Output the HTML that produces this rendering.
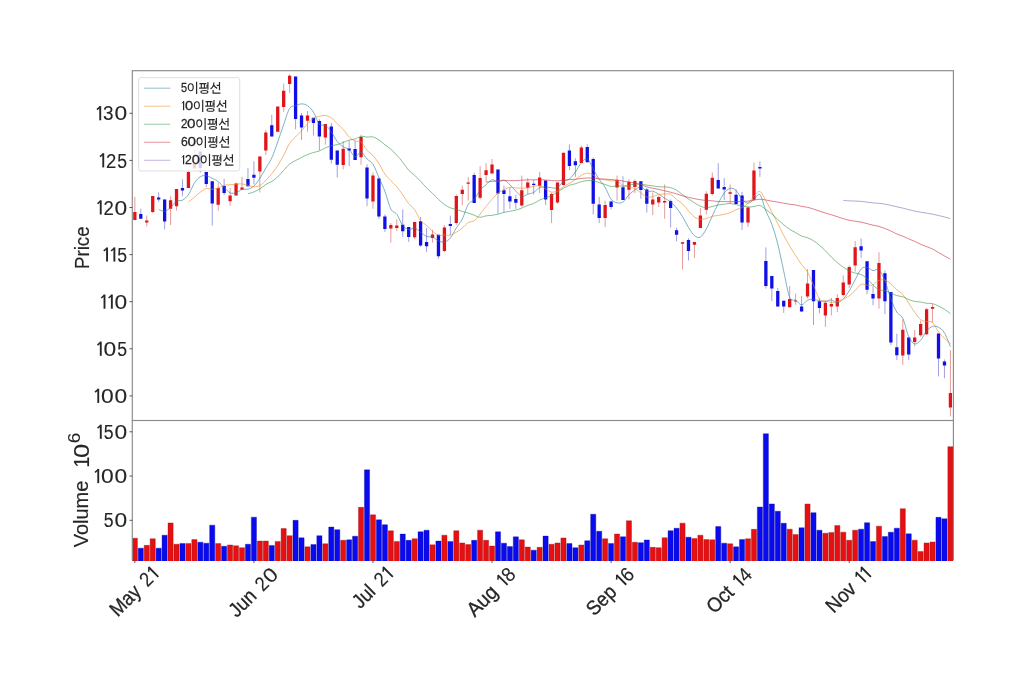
<!DOCTYPE html>
<html><head><meta charset="utf-8"><title>chart</title><style>html,body{margin:0;padding:0;background:#fff}body{width:1024px;height:692px;overflow:hidden;font-family:"Liberation Sans",sans-serif}</style></head><body>
<svg width="1024" height="692" viewBox="0 0 1024 692" style="display:block;font-family:'Liberation Sans',sans-serif;will-change:transform">
<rect width="1024" height="692" fill="#ffffff"/>
<defs><clipPath id="cp"><rect x="132.3" y="70.7" width="821.1" height="349.8"/></clipPath>
<clipPath id="cv"><rect x="131.8" y="420.5" width="821.7" height="140.4"/></clipPath>
</defs>
<g clip-path="url(#cp)">
<path d="M134.85 196.9V220.4M146.76 215.6V226.25M152.71 196V213.1M170.57 196.25V225M176.52 189V210.6M188.43 170.6V187.9M194.38 150V168.5M218.19 182.5V210.6M230.1 188.1V205.6M236.05 182.5V195.6M242 176.9V190M259.86 156.5V192.5M265.82 130V155M277.72 106.5V131.75M283.68 83.6V111.75M289.63 74.25V93M307.49 111.1V131.75M325.35 123.9V144.6M343.21 141.25V169.4M361.06 134.75V164.75M372.97 172.5V208.75M390.83 223.1V242.5M396.78 219.4V231.25M414.64 221.9V239M432.5 229.75V242.5M444.41 225V252.2M456.31 194.4V225M462.26 185.6V205.3M468.22 177.25V200.6M480.12 166.25V199.4M486.08 163.1V181.9M492.03 159V173.5M521.79 175.6V206.9M527.75 178.1V194.4M539.65 171.9V193.1M551.56 192.5V223.1M557.51 181.9V203.75M563.47 152.75V185.6M581.33 145.6V163.1M605.14 200.6V227M617.04 175.6V200.6M628.95 179.4V199.4M634.9 179.4V193.1M652.76 192.5V215M658.71 195.9V206.9M664.67 184.4V218.75M682.53 242.25V269.4M694.43 241.9V258.1M700.39 208.1V228.1M706.34 191.25V214.4M712.29 172.5V195.6M730.15 184.4V203.1M748.01 206.25V226.9M753.96 162.5V199.75M789.68 286V307.25M795.63 293.5V304.75M807.54 269.1V298.5M825.4 301V326.9M831.35 297.9V315.4M837.3 294.1V312.25M843.26 275.4V296.6M849.21 265.4V287.9M855.16 241V271.6M878.98 252.25V308.6M902.79 319.4V365M914.69 330V346.25M920.65 320.6V336.9M926.6 307.8V335.1M932.55 304.1V322.9M950.41 350.1V416.4" stroke="#c83c3c" stroke-width="0.85" stroke-opacity="0.6" fill="none"/>
<path d="M140.8 208.75V218.75M158.66 192.25V201.9M164.62 199.4V229.4M182.47 179.4V196.25M200.33 151.5V172.6M206.29 171.9V186.9M212.24 181.25V225.6M224.14 178.75V195M247.96 168.1V186.9M253.91 161.25V184.4M271.77 114.9V136.5M295.58 76.5V129.25M301.53 113V139.9M313.44 117.75V135.5M319.39 119.25V150.3M331.3 123V163.5M337.25 150.6V177.5M349.16 140.6V166.25M355.11 140.6V160M367.02 164.4V206.1M378.92 177.5V218.75M384.88 214.4V231.9M402.74 209.4V236.9M408.69 226.9V241.9M420.59 216.9V246.9M426.55 228.1V251.9M438.45 234.75V258.75M450.36 215.6V235M474.17 172.5V203.1M497.98 169.4V213.75M503.94 185.6V212.5M509.89 187.5V208.75M515.84 195V208.75M533.7 180V194.4M545.61 180.6V205M569.42 144.4V170M575.37 158.1V176.9M587.28 144.4V162.25M593.23 157.5V214.4M599.18 196.9V223.1M611.09 200.6V209.4M623 176.25V200M640.86 181.25V198.75M646.81 188.1V212.5M670.62 199.4V227.5M676.57 227.5V241.25M688.48 238.1V260.6M718.24 163.1V188.5M724.2 178.1V200M736.1 189.4V204M742.06 191.9V230M759.92 161.25V176.9M765.87 247.4V288.6M771.82 276.1V301.1M777.77 288V306.6M783.73 300.7V312.9M801.59 296V311.6M813.49 270V325M819.45 297.9V313.5M861.12 238.5V257.9M867.07 261.25V294.1M873.02 286V305.2M884.93 270.4V314.25M890.88 291.9V345M896.83 333.75V360M908.74 337.5V360M938.51 333.6V376.4M944.46 359.5V378.3" stroke="#4646c8" stroke-width="0.85" stroke-opacity="0.6" fill="none"/>
<path d="M133.2 212.1h3.3V220h-3.3zM145.11 220.6h3.3V222.5h-3.3zM151.06 196h3.3V212.1h-3.3zM168.92 200.25h3.3V208.75h-3.3zM174.87 189h3.3V206.25h-3.3zM186.78 171.9h3.3V187.9h-3.3zM192.73 164h3.3V168.5h-3.3zM216.54 187.9h3.3V204.75h-3.3zM228.45 195.4h3.3V201.25h-3.3zM234.4 183.5h3.3V195.6h-3.3zM240.35 187.5h3.3V189.4h-3.3zM258.21 156.5h3.3V171.5h-3.3zM264.17 132.5h3.3V150.4h-3.3zM276.07 106.5h3.3V131.75h-3.3zM282.03 90.75h3.3V107h-3.3zM287.98 75.75h3.3V84h-3.3zM305.84 115.5h3.3V120.75h-3.3zM323.7 123.9h3.3V137.4h-3.3zM341.56 148.75h3.3V165h-3.3zM359.41 136.9h3.3V157.25h-3.3zM371.32 175.6h3.3V201.4h-3.3zM389.18 225h3.3V228.5h-3.3zM395.13 225.4h3.3V228.1h-3.3zM412.99 221.9h3.3V237.25h-3.3zM430.85 234.4h3.3V238.1h-3.3zM442.76 227.4h3.3V251.1h-3.3zM454.66 196h3.3V223.1h-3.3zM460.62 189.75h3.3V194h-3.3zM466.57 182.6h3.3V183.8h-3.3zM478.47 178.1h3.3V197.75h-3.3zM484.43 170.25h3.3V175h-3.3zM490.38 164.4h3.3V173.5h-3.3zM520.14 190.25h3.3V205.6h-3.3zM526.1 182.5h3.3V187.75h-3.3zM538 177.4h3.3V185.8h-3.3zM549.91 194h3.3V210h-3.3zM555.86 182.5h3.3V202.5h-3.3zM561.82 152.75h3.3V185h-3.3zM579.68 147.5h3.3V163.1h-3.3zM603.49 205h3.3V218.1h-3.3zM615.39 180h3.3V187.5h-3.3zM627.3 181.9h3.3V189.75h-3.3zM633.25 181h3.3V186.9h-3.3zM651.11 199.4h3.3V204.4h-3.3zM657.06 197h3.3V202.5h-3.3zM663.02 201h3.3V202.5h-3.3zM680.88 242.25h3.3V243.75h-3.3zM692.78 241.9h3.3V244.75h-3.3zM698.74 215.6h3.3V228.1h-3.3zM704.69 193.75h3.3V209.75h-3.3zM710.64 177.75h3.3V194h-3.3zM728.5 192.25h3.3V193.75h-3.3zM746.36 207.5h3.3V222.5h-3.3zM752.31 170.6h3.3V199.75h-3.3zM788.03 299.1h3.3V307.25h-3.3zM793.98 300.4h3.3V301.6h-3.3zM805.89 283.5h3.3V296.6h-3.3zM823.75 302.7h3.3V315.5h-3.3zM829.7 304.1h3.3V306.6h-3.3zM835.65 297.9h3.3V306.6h-3.3zM841.61 282.5h3.3V295h-3.3zM847.56 267h3.3V284.5h-3.3zM853.51 247.25h3.3V265.4h-3.3zM877.33 262.9h3.3V298.5h-3.3zM901.14 329.75h3.3V355.6h-3.3zM913.04 337.5h3.3V341.9h-3.3zM919 324h3.3V335.25h-3.3zM924.95 309.3h3.3V334.25h-3.3zM930.9 306.9h3.3V308.8h-3.3zM948.76 393h3.3V407.4h-3.3z" fill="#e0151a"/>
<path d="M139.15 214.1h3.3V218.75h-3.3zM157.01 197.5h3.3V199.6h-3.3zM162.97 199.4h3.3V221.5h-3.3zM180.82 188.1h3.3V190.6h-3.3zM198.68 151.5h3.3V168h-3.3zM204.64 171.9h3.3V184.1h-3.3zM210.59 181.25h3.3V203.5h-3.3zM222.49 186h3.3V193.1h-3.3zM246.31 179h3.3V186.25h-3.3zM252.26 174.75h3.3V177.75h-3.3zM270.12 125.25h3.3V136.5h-3.3zM293.93 76.5h3.3V119h-3.3zM299.88 115.5h3.3V127.4h-3.3zM311.79 117.75h3.3V123h-3.3zM317.74 121.1h3.3V136.5h-3.3zM329.65 126.5h3.3V159.75h-3.3zM335.6 150.6h3.3V164.75h-3.3zM347.51 148.5h3.3V150.6h-3.3zM353.46 149h3.3V160h-3.3zM365.37 167.5h3.3V198.6h-3.3zM377.27 178.5h3.3V216.5h-3.3zM383.23 216.5h3.3V229.1h-3.3zM401.09 224.75h3.3V231.25h-3.3zM407.04 226.9h3.3V236.9h-3.3zM418.94 221.25h3.3V245.6h-3.3zM424.9 241.9h3.3V246.25h-3.3zM436.8 234.75h3.3V256.25h-3.3zM448.71 224h3.3V225.9h-3.3zM472.52 175h3.3V203.1h-3.3zM496.33 169.4h3.3V193.5h-3.3zM502.29 190.25h3.3V194h-3.3zM508.24 196.25h3.3V201.5h-3.3zM514.19 199h3.3V202.75h-3.3zM532.05 183.75h3.3V185h-3.3zM543.96 180.6h3.3V199.6h-3.3zM567.77 150.6h3.3V166h-3.3zM573.72 161.25h3.3V165.25h-3.3zM585.63 146.9h3.3V162.25h-3.3zM591.58 159h3.3V203.75h-3.3zM597.53 204.4h3.3V218.1h-3.3zM609.44 201.5h3.3V206.9h-3.3zM621.35 187.25h3.3V200h-3.3zM639.21 181.25h3.3V190h-3.3zM645.16 189.4h3.3V203.75h-3.3zM668.97 201h3.3V208.1h-3.3zM674.92 230.3h3.3V234.75h-3.3zM686.83 240h3.3V251h-3.3zM716.59 180h3.3V188.5h-3.3zM722.55 186.9h3.3V189.4h-3.3zM734.45 194.75h3.3V204h-3.3zM740.41 195.6h3.3V222.5h-3.3zM758.27 166.9h3.3V168.5h-3.3zM764.22 261h3.3V286h-3.3zM770.17 276.1h3.3V288.5h-3.3zM776.12 291h3.3V306.6h-3.3zM782.08 300.7h3.3V306.6h-3.3zM799.94 306.6h3.3V311.6h-3.3zM811.84 270h3.3V301.25h-3.3zM817.8 301.25h3.3V307.9h-3.3zM859.47 246.25h3.3V250.4h-3.3zM865.42 261.25h3.3V289.75h-3.3zM871.37 294.1h3.3V298.6h-3.3zM883.28 273.25h3.3V301.25h-3.3zM889.23 291.9h3.3V342.5h-3.3zM895.18 347.25h3.3V355.25h-3.3zM907.09 337.5h3.3V354.4h-3.3zM936.86 333.6h3.3V358.6h-3.3zM942.81 361.4h3.3V365.5h-3.3z" fill="#1010e6"/>
<path d="M158.66 209.41C159.65 209.72 162.63 211.59 164.62 211.29C166.6 210.99 168.58 209.26 170.57 207.59C172.55 205.92 174.54 202.5 176.52 201.27C178.51 200.04 180.49 201.29 182.47 200.19C184.46 199.09 186.44 197.49 188.43 194.65C190.41 191.81 192.4 186.14 194.38 183.15C196.36 180.16 198.35 177.94 200.33 176.7C202.32 175.46 204.3 175.45 206.29 175.72C208.27 175.99 210.25 177.34 212.24 178.3C214.22 179.26 216.21 180 218.19 181.5C220.18 183 222.16 185.44 224.14 187.32C226.13 189.2 228.11 191.91 230.1 192.8C232.08 193.69 234.07 193.23 236.05 192.68C238.04 192.13 240.02 190.07 242 189.48C243.99 188.89 245.97 189.72 247.96 189.15C249.94 188.58 251.93 187.89 253.91 186.08C255.89 184.27 257.88 181.3 259.86 178.3C261.85 175.3 263.83 171.5 265.82 168.1C267.8 164.7 269.78 162.26 271.77 157.9C273.75 153.54 275.74 147.51 277.72 141.95C279.71 136.39 281.69 130.14 283.68 124.55C285.66 118.96 287.64 111.54 289.63 108.4C291.61 105.26 293.6 106.45 295.58 105.7C297.57 104.95 299.55 103.88 301.53 103.88C303.52 103.88 305.5 104.3 307.49 105.68C309.47 107.05 311.46 109.03 313.44 112.13C315.42 115.23 317.41 122.09 319.39 124.28C321.38 126.47 323.36 124.02 325.35 125.26C327.33 126.5 329.31 129.01 331.3 131.73C333.28 134.45 335.27 139.08 337.25 141.58C339.24 144.08 341.22 145.4 343.21 146.73C345.19 148.06 347.17 147.88 349.16 149.55C351.14 151.22 353.13 156.33 355.11 156.77C357.1 157.21 359.08 151.83 361.06 152.2C363.05 152.57 365.03 156.95 367.02 158.97C369 160.99 370.99 161.25 372.97 164.34C374.95 167.43 376.94 173.02 378.92 177.52C380.91 182.02 382.89 186.1 384.88 191.34C386.86 196.58 388.84 205.13 390.83 208.96C392.81 212.79 394.8 211.57 396.78 214.32C398.77 217.07 400.75 222.91 402.74 225.45C404.72 227.98 406.7 229.09 408.69 229.53C410.67 229.97 412.66 227.64 414.64 228.09C416.63 228.54 418.61 230.83 420.59 232.21C422.58 233.59 424.56 235.58 426.55 236.38C428.53 237.18 430.52 236.26 432.5 237.01C434.48 237.76 436.47 240.05 438.45 240.88C440.44 241.71 442.42 242.45 444.41 241.98C446.39 241.51 448.37 240.37 450.36 238.04C452.34 235.71 454.33 231.15 456.31 227.99C458.3 224.83 460.28 223 462.26 219.06C464.25 215.12 466.23 207.59 468.22 204.33C470.2 201.06 472.19 201.87 474.17 199.47C476.16 197.07 478.14 192.36 480.12 189.91C482.11 187.46 484.09 186.46 486.08 184.76C488.06 183.06 490.05 180.17 492.03 179.69C494.01 179.21 496 181.81 497.98 181.87C499.97 181.93 501.95 179.57 503.94 180.05C505.92 180.53 507.9 182.87 509.89 184.73C511.87 186.59 513.86 189.28 515.84 191.23C517.83 193.17 519.81 195.91 521.79 196.4C523.78 196.9 525.76 194.87 527.75 194.2C529.73 193.53 531.72 193.5 533.7 192.4C535.69 191.3 537.67 188.49 539.65 187.58C541.64 186.67 543.62 186.93 545.61 186.95C547.59 186.97 549.58 187.57 551.56 187.7C553.54 187.82 555.53 188.77 557.51 187.7C559.5 186.62 561.48 182.7 563.47 181.25C565.45 179.8 567.43 180.5 569.42 178.97C571.4 177.44 573.39 174.79 575.37 172.1C577.36 169.41 579.34 165.03 581.33 162.8C583.31 160.58 585.29 157.72 587.28 158.75C589.26 159.78 591.25 165.51 593.23 168.95C595.22 172.39 597.2 176.31 599.18 179.37C601.17 182.43 603.15 184.01 605.14 187.32C607.12 190.62 609.11 196.63 611.09 199.2C613.07 201.77 615.06 202.28 617.04 202.75C619.03 203.22 621.01 203.33 623 202C624.98 200.67 626.96 196.77 628.95 194.76C630.93 192.75 632.92 191.32 634.9 189.96C636.89 188.6 638.87 186.35 640.86 186.58C642.84 186.81 644.82 190.56 646.81 191.33C648.79 192.1 650.78 190.73 652.76 191.21C654.75 191.69 656.73 193.06 658.71 194.23C660.7 195.4 662.68 196.96 664.67 198.23C666.65 199.5 668.64 200.21 670.62 201.85C672.6 203.49 674.59 205.59 676.57 208.05C678.56 210.51 680.54 213.39 682.53 216.62C684.51 219.85 686.49 224.26 688.48 227.42C690.46 230.58 692.45 233.99 694.43 235.6C696.42 237.21 698.4 238.22 700.39 237.1C702.37 235.98 704.35 232.42 706.34 228.9C708.32 225.38 710.31 220.23 712.29 216C714.28 211.77 716.26 207.33 718.24 203.5C720.23 199.67 722.21 195.53 724.2 193C726.18 190.47 728.17 188.77 730.15 188.33C732.13 187.89 734.12 188.55 736.1 190.38C738.09 192.21 740.07 197.2 742.06 199.33C744.04 201.45 746.02 203.12 748.01 203.13C749.99 203.14 751.98 200.79 753.96 199.37C755.95 197.95 757.93 192.68 759.92 194.62C761.9 196.56 763.88 206.09 765.87 211.02C767.85 215.95 769.84 218.72 771.82 224.22C773.81 229.72 775.79 236.2 777.77 244.04C779.76 251.88 781.74 262.35 783.73 271.24C785.71 280.13 787.7 292.53 789.68 297.36C791.66 302.19 793.65 298.99 795.63 300.24C797.62 301.49 799.6 304.86 801.59 304.86C803.57 304.86 805.55 301.19 807.54 300.24C809.52 299.29 811.51 299.05 813.49 299.17C815.48 299.28 817.46 300.56 819.45 300.93C821.43 301.3 823.41 301.56 825.4 301.39C827.38 301.22 829.37 299.66 831.35 299.89C833.34 300.12 835.32 302.91 837.3 302.77C839.29 302.62 841.27 301.01 843.26 299.02C845.24 297.03 847.23 294.05 849.21 290.84C851.19 287.63 853.18 283.39 855.16 279.75C857.15 276.11 859.13 271.07 861.12 269.01C863.1 266.95 865.08 267.12 867.07 267.38C869.05 267.64 871.04 270.2 873.02 270.6C875.01 271 876.99 268.12 878.98 269.78C880.96 271.44 882.94 275.71 884.93 280.58C886.91 285.45 888.9 293.75 890.88 299C892.87 304.25 894.85 308.88 896.83 312.1C898.82 315.32 900.8 314.24 902.79 318.33C904.77 322.42 906.76 332.37 908.74 336.63C910.72 340.89 912.71 343.29 914.69 343.88C916.68 344.47 918.66 342.33 920.65 340.18C922.63 338.03 924.61 333.28 926.6 330.99C928.58 328.7 930.57 327.04 932.55 326.42C934.54 325.8 936.52 326.19 938.51 327.26C940.49 328.33 942.47 329.63 944.46 332.86C946.44 336.09 949.42 344.36 950.41 346.66" stroke="#2f7f9c" stroke-width="0.7" stroke-opacity="0.88" fill="none" stroke-linejoin="round"/>
<path d="M188.43 202.03C189.42 201.23 192.4 198.87 194.38 197.22C196.36 195.57 198.35 193.6 200.33 192.15C202.32 190.69 204.3 188.98 206.29 188.5C208.27 188.01 210.25 189.31 212.24 189.25C214.22 189.18 216.21 188.74 218.19 188.07C220.18 187.41 222.16 185.79 224.14 185.23C226.13 184.68 228.11 184.92 230.1 184.75C232.08 184.58 234.07 184.34 236.05 184.2C238.04 184.06 240.02 183.7 242 183.89C243.99 184.08 245.97 184.86 247.96 185.32C249.94 185.79 251.93 186.66 253.91 186.7C255.89 186.74 257.88 186.6 259.86 185.55C261.85 184.5 263.83 182.37 265.82 180.39C267.8 178.41 269.78 176.16 271.77 173.69C273.75 171.22 275.74 168.61 277.72 165.55C279.71 162.49 281.69 159.01 283.68 155.31C285.66 151.62 287.64 146.42 289.63 143.35C291.61 140.28 293.6 138.98 295.58 136.9C297.57 134.82 299.55 133.07 301.53 130.89C303.52 128.71 305.5 125.91 307.49 123.82C309.47 121.72 311.46 119.59 313.44 118.34C315.42 117.09 317.41 116.82 319.39 116.34C321.38 115.86 323.36 115.24 325.35 115.48C327.33 115.72 329.31 116.45 331.3 117.8C333.28 119.16 335.27 121.69 337.25 123.63C339.24 125.57 341.22 127.22 343.21 129.43C345.19 131.64 347.17 134.98 349.16 136.92C351.14 138.85 353.13 140.17 355.11 141.02C357.1 141.86 359.08 140.42 361.06 141.97C363.05 143.51 365.03 148.01 367.02 150.28C369 152.54 370.99 153.32 372.97 155.53C374.95 157.75 376.94 160.45 378.92 163.53C380.91 166.62 382.89 171.21 384.88 174.06C386.86 176.9 388.84 178.48 390.83 180.58C392.81 182.68 394.8 184.26 396.78 186.65C398.77 189.03 400.75 192.08 402.74 194.9C404.72 197.71 406.7 201.06 408.69 203.53C410.67 206 412.66 206.87 414.64 209.72C416.63 212.56 418.61 217.98 420.59 220.58C422.58 223.19 424.56 223.58 426.55 225.35C428.53 227.12 430.52 229.59 432.5 231.23C434.48 232.87 436.47 234.57 438.45 235.21C440.44 235.84 442.42 235.05 444.41 235.03C446.39 235.02 448.37 235.6 450.36 235.12C452.34 234.65 454.33 233.37 456.31 232.19C458.3 231 460.28 229.63 462.26 228.03C464.25 226.44 466.23 223.82 468.22 222.61C470.2 221.39 472.19 222.16 474.17 220.72C476.16 219.29 478.14 216.37 480.12 213.97C482.11 211.58 484.09 208.81 486.08 206.38C488.06 203.94 490.05 201.59 492.03 199.38C494.01 197.16 496 194.7 497.98 193.1C499.97 191.5 501.95 190.72 503.94 189.76C505.92 188.8 507.9 187.61 509.89 187.32C511.87 187.03 513.86 187.87 515.84 188C517.83 188.12 519.81 188.04 521.79 188.05C523.78 188.05 525.76 188.34 527.75 188.03C529.73 187.73 531.72 186.54 533.7 186.22C535.69 185.91 537.67 185.68 539.65 186.16C541.64 186.63 543.62 188.11 545.61 189.09C547.59 190.07 549.58 191.74 551.56 192.05C553.54 192.36 555.53 191.82 557.51 190.95C559.5 190.08 561.48 188.1 563.47 186.82C565.45 185.55 567.43 184.49 569.42 183.28C571.4 182.06 573.39 180.86 575.37 179.53C577.36 178.19 579.34 176.3 581.33 175.25C583.31 174.2 585.29 173.25 587.28 173.22C589.26 173.2 591.25 174.11 593.23 175.1C595.22 176.09 597.2 178.4 599.18 179.17C601.17 179.94 603.15 179.4 605.14 179.71C607.12 180.01 609.11 180.83 611.09 181C613.07 181.17 615.06 180 617.04 180.75C619.03 181.5 621.01 184.42 623 185.47C624.98 186.53 626.96 186.54 628.95 187.06C630.93 187.59 632.92 187.67 634.9 188.64C636.89 189.61 638.87 191.49 640.86 192.89C642.84 194.29 644.82 196.42 646.81 197.04C648.79 197.66 650.78 197.03 652.76 196.6C654.75 196.18 656.73 194.91 658.71 194.5C660.7 194.08 662.68 194.14 664.67 194.09C666.65 194.05 668.64 193.28 670.62 194.22C672.6 195.15 674.59 198.07 676.57 199.69C678.56 201.31 680.54 202.06 682.53 203.92C684.51 205.77 686.49 208.66 688.48 210.82C690.46 212.99 692.45 215.47 694.43 216.92C696.42 218.36 698.4 219.22 700.39 219.47C702.37 219.73 704.35 219 706.34 218.47C708.32 217.95 710.31 216.81 712.29 216.31C714.28 215.81 716.26 215.79 718.24 215.46C720.23 215.12 722.21 214.76 724.2 214.3C726.18 213.84 728.17 213.49 730.15 212.72C732.13 211.94 734.12 210.48 736.1 209.64C738.09 208.8 740.07 208.72 742.06 207.67C744.04 206.61 746.02 205.23 748.01 203.31C749.99 201.4 751.98 198.16 753.96 196.19C755.95 194.21 757.93 190.72 759.92 191.47C761.9 192.23 763.88 197.32 765.87 200.7C767.85 204.08 769.84 207.96 771.82 211.78C773.81 215.59 775.79 219.66 777.77 223.58C779.76 227.51 781.74 231.57 783.73 235.31C785.71 239.04 787.7 242.6 789.68 245.99C791.66 249.38 793.65 252.54 795.63 255.63C797.62 258.72 799.6 261.79 801.59 264.54C803.57 267.29 805.55 268.7 807.54 272.14C809.52 275.58 811.51 280.7 813.49 285.21C815.48 289.71 817.46 296.54 819.45 299.14C821.43 301.75 823.41 300.28 825.4 300.81C827.38 301.35 829.37 302.26 831.35 302.38C833.34 302.49 835.32 302.05 837.3 301.5C839.29 300.96 841.27 300.03 843.26 299.09C845.24 298.16 847.23 297.31 849.21 295.88C851.19 294.46 853.18 292.48 855.16 290.57C857.15 288.66 859.13 285.37 861.12 284.45C863.1 283.53 865.08 285.01 867.07 285.07C869.05 285.13 871.04 285.6 873.02 284.81C875.01 284.02 876.99 281.08 878.98 280.31C880.96 279.54 882.94 279.55 884.93 280.17C886.91 280.78 888.9 282.41 890.88 284C892.87 285.6 894.85 288 896.83 289.74C898.82 291.48 900.8 292.22 902.79 294.47C904.77 296.71 906.76 300.24 908.74 303.21C910.72 306.17 912.71 309.5 914.69 312.23C916.68 314.96 918.66 318.04 920.65 319.59C922.63 321.14 924.61 321.08 926.6 321.54C928.58 322.01 930.57 320.64 932.55 322.38C934.54 324.11 936.52 329.28 938.51 331.94C940.49 334.61 942.47 336.46 944.46 338.37C946.44 340.28 949.42 342.58 950.41 343.42" stroke="#ee8a28" stroke-width="0.7" stroke-opacity="0.88" fill="none" stroke-linejoin="round"/>
<path d="M247.96 193.68C248.95 193.39 251.93 192.76 253.91 191.96C255.89 191.15 257.88 190.1 259.86 188.85C261.85 187.59 263.83 185.67 265.82 184.44C267.8 183.21 269.78 182.74 271.77 181.47C273.75 180.2 275.74 178.68 277.72 176.81C279.71 174.95 281.69 172.4 283.68 170.28C285.66 168.15 287.64 165.67 289.63 164.05C291.61 162.43 293.6 161.66 295.58 160.55C297.57 159.44 299.55 158.39 301.53 157.39C303.52 156.39 305.5 155.38 307.49 154.57C309.47 153.76 311.46 153.12 313.44 152.52C315.42 151.92 317.41 151.71 319.39 150.94C321.38 150.18 323.36 148.8 325.35 147.94C327.33 147.07 329.31 146.31 331.3 145.75C333.28 145.19 335.27 145.15 337.25 144.59C339.24 144.03 341.22 143.12 343.21 142.37C345.19 141.63 347.17 140.7 349.16 140.13C351.14 139.56 353.13 139.58 355.11 138.96C357.1 138.34 359.08 136.75 361.06 136.43C363.05 136.11 365.03 136.96 367.02 137.05C369 137.13 370.99 136.46 372.97 136.94C374.95 137.42 376.94 138.63 378.92 139.94C380.91 141.24 382.89 143.22 384.88 144.77C386.86 146.31 388.84 147.46 390.83 149.19C392.81 150.92 394.8 152.98 396.78 155.14C398.77 157.3 400.75 159.65 402.74 162.16C404.72 164.68 406.7 168.02 408.69 170.22C410.67 172.42 412.66 173.52 414.64 175.37C416.63 177.21 418.61 179.2 420.59 181.28C422.58 183.35 424.56 185.79 426.55 187.81C428.53 189.83 430.52 191.46 432.5 193.38C434.48 195.31 436.47 197.51 438.45 199.37C440.44 201.23 442.42 203.13 444.41 204.55C446.39 205.96 448.37 207.04 450.36 207.85C452.34 208.66 454.33 208.81 456.31 209.42C458.3 210.02 460.28 210.86 462.26 211.47C464.25 212.07 466.23 212.44 468.22 213.06C470.2 213.69 472.19 214.52 474.17 215.22C476.16 215.92 478.14 217.17 480.12 217.28C482.11 217.39 484.09 216.19 486.08 215.86C488.06 215.53 490.05 215.59 492.03 215.3C494.01 215.02 496 214.64 497.98 214.15C499.97 213.67 501.95 212.89 503.94 212.4C505.92 211.91 507.9 211.61 509.89 211.22C511.87 210.84 513.86 210.62 515.84 210.09C517.83 209.56 519.81 208.84 521.79 208.04C523.78 207.25 525.76 206.08 527.75 205.32C529.73 204.56 531.72 204.35 533.7 203.47C535.69 202.6 537.67 201.02 539.65 200.06C541.64 199.11 543.62 198.46 545.61 197.73C547.59 197.01 549.58 196.66 551.56 195.71C553.54 194.76 555.53 193.26 557.51 192.03C559.5 190.79 561.48 189.41 563.47 188.29C565.45 187.17 567.43 186.05 569.42 185.3C571.4 184.54 573.39 184.37 575.37 183.76C577.36 183.15 579.34 182.17 581.33 181.65C583.31 181.13 585.29 180.79 587.28 180.63C589.26 180.47 591.25 180.32 593.23 180.66C595.22 181 597.2 182.04 599.18 182.66C601.17 183.29 603.15 183.76 605.14 184.4C607.12 185.04 609.11 186.28 611.09 186.53C613.07 186.77 615.06 185.91 617.04 185.85C619.03 185.79 621.01 186.26 623 186.15C624.98 186.04 626.96 185.51 628.95 185.17C630.93 184.83 632.92 184.27 634.9 184.08C636.89 183.9 638.87 183.89 640.86 184.07C642.84 184.25 644.82 184.84 646.81 185.13C648.79 185.43 650.78 185.57 652.76 185.85C654.75 186.14 656.73 186.66 658.71 186.83C660.7 187.01 662.68 186.77 664.67 186.9C666.65 187.03 668.64 187.05 670.62 187.61C672.6 188.16 674.59 189.04 676.57 190.22C678.56 191.4 680.54 193.24 682.53 194.69C684.51 196.15 686.49 197.6 688.48 198.94C690.46 200.29 692.45 201.57 694.43 202.78C696.42 203.98 698.4 205.35 700.39 206.18C702.37 207.01 704.35 207.71 706.34 207.76C708.32 207.8 710.31 206.92 712.29 206.46C714.28 205.99 716.26 205.35 718.24 204.98C720.23 204.6 722.21 204.45 724.2 204.2C726.18 203.95 728.17 203.39 730.15 203.47C732.13 203.54 734.12 204.28 736.1 204.67C738.09 205.05 740.07 205.39 742.06 205.79C744.04 206.19 746.02 206.94 748.01 207.07C749.99 207.2 751.98 206.82 753.96 206.55C755.95 206.28 757.93 204.97 759.92 205.47C761.9 205.98 763.88 208.16 765.87 209.59C767.85 211.02 769.84 212.39 771.82 214.04C773.81 215.7 775.79 217.73 777.77 219.52C779.76 221.32 781.74 223.16 783.73 224.8C785.71 226.44 787.7 228.05 789.68 229.35C791.66 230.66 793.65 231.51 795.63 232.63C797.62 233.76 799.6 235.25 801.59 236.1C803.57 236.95 805.55 236.96 807.54 237.73C809.52 238.49 811.51 239.43 813.49 240.69C815.48 241.96 817.46 243.63 819.45 245.31C821.43 246.99 823.41 248.8 825.4 250.76C827.38 252.72 829.37 255.11 831.35 257.07C833.34 259.04 835.32 260.86 837.3 262.54C839.29 264.23 841.27 265.8 843.26 267.2C845.24 268.6 847.23 269.95 849.21 270.94C851.19 271.92 853.18 272.51 855.16 273.1C857.15 273.69 859.13 273.58 861.12 274.5C863.1 275.41 865.08 276.86 867.07 278.61C869.05 280.36 871.04 283.15 873.02 285.01C875.01 286.86 876.99 288.81 878.98 289.73C880.96 290.64 882.94 289.91 884.93 290.49C886.91 291.07 888.9 292.33 890.88 293.19C892.87 294.05 894.85 295.02 896.83 295.62C898.82 296.22 900.8 296.13 902.79 296.78C904.77 297.43 906.76 298.77 908.74 299.54C910.72 300.31 912.71 300.99 914.69 301.4C916.68 301.81 918.66 301.7 920.65 302.02C922.63 302.34 924.61 303.05 926.6 303.31C928.58 303.57 930.57 303.12 932.55 303.59C934.54 304.06 936.52 305.18 938.51 306.13C940.49 307.07 942.47 308 944.46 309.27C946.44 310.53 949.42 312.97 950.41 313.71" stroke="#379a4c" stroke-width="0.7" stroke-opacity="0.88" fill="none" stroke-linejoin="round"/>
<path d="M486.08 182.2C487.07 182.06 490.05 181.6 492.03 181.4C494.01 181.2 496 181.12 497.98 180.98C499.97 180.84 501.95 180.59 503.94 180.54C505.92 180.48 507.9 180.6 509.89 180.63C511.87 180.65 513.86 180.76 515.84 180.68C517.83 180.6 519.81 180.3 521.79 180.16C523.78 180.02 525.76 179.92 527.75 179.86C529.73 179.8 531.72 179.84 533.7 179.8C535.69 179.75 537.67 179.54 539.65 179.58C541.64 179.62 543.62 179.88 545.61 180.04C547.59 180.2 549.58 180.41 551.56 180.54C553.54 180.66 555.53 180.83 557.51 180.78C559.5 180.73 561.48 180.45 563.47 180.26C565.45 180.07 567.43 179.8 569.42 179.63C571.4 179.47 573.39 179.44 575.37 179.25C577.36 179.07 579.34 178.71 581.33 178.5C583.31 178.28 585.29 177.98 587.28 177.94C589.26 177.91 591.25 178.14 593.23 178.28C595.22 178.42 597.2 178.65 599.18 178.79C601.17 178.93 603.15 178.97 605.14 179.1C607.12 179.24 609.11 179.44 611.09 179.59C613.07 179.73 615.06 179.73 617.04 179.98C619.03 180.23 621.01 180.79 623 181.1C624.98 181.42 626.96 181.53 628.95 181.86C630.93 182.19 632.92 182.62 634.9 183.1C636.89 183.59 638.87 184.13 640.86 184.76C642.84 185.39 644.82 186.31 646.81 186.89C648.79 187.47 650.78 187.81 652.76 188.23C654.75 188.65 656.73 188.96 658.71 189.39C660.7 189.82 662.68 190.34 664.67 190.82C666.65 191.29 668.64 191.72 670.62 192.23C672.6 192.74 674.59 193.27 676.57 193.87C678.56 194.47 680.54 195.26 682.53 195.84C684.51 196.43 686.49 196.9 688.48 197.36C690.46 197.83 692.45 198.25 694.43 198.65C696.42 199.05 698.4 199.46 700.39 199.76C702.37 200.07 704.35 200.31 706.34 200.48C708.32 200.65 710.31 200.59 712.29 200.78C714.28 200.97 716.26 201.52 718.24 201.64C720.23 201.76 722.21 201.47 724.2 201.49C726.18 201.51 728.17 201.75 730.15 201.76C732.13 201.78 734.12 201.61 736.1 201.56C738.09 201.5 740.07 201.51 742.06 201.45C744.04 201.38 746.02 201.35 748.01 201.15C749.99 200.95 751.98 200.57 753.96 200.24C755.95 199.91 757.93 199.23 759.92 199.2C761.9 199.16 763.88 199.69 765.87 200.01C767.85 200.33 769.84 200.77 771.82 201.12C773.81 201.48 775.79 201.8 777.77 202.14C779.76 202.48 781.74 202.8 783.73 203.15C785.71 203.49 787.7 203.92 789.68 204.22C791.66 204.53 793.65 204.6 795.63 204.96C797.62 205.32 799.6 205.97 801.59 206.36C803.57 206.76 805.55 206.87 807.54 207.32C809.52 207.78 811.51 208.46 813.49 209.08C815.48 209.7 817.46 210.38 819.45 211.05C821.43 211.71 823.41 212.43 825.4 213.05C827.38 213.66 829.37 214.12 831.35 214.73C833.34 215.34 835.32 216.08 837.3 216.73C839.29 217.37 841.27 218 843.26 218.6C845.24 219.2 847.23 219.87 849.21 220.31C851.19 220.74 853.18 220.9 855.16 221.2C857.15 221.51 859.13 221.74 861.12 222.15C863.1 222.55 865.08 223.1 867.07 223.62C869.05 224.13 871.04 224.75 873.02 225.21C875.01 225.68 876.99 225.89 878.98 226.42C880.96 226.96 882.94 227.64 884.93 228.4C886.91 229.17 888.9 230.1 890.88 231.03C892.87 231.96 894.85 233.14 896.83 233.99C898.82 234.85 900.8 235.35 902.79 236.16C904.77 236.97 906.76 237.96 908.74 238.84C910.72 239.71 912.71 240.51 914.69 241.42C916.68 242.32 918.66 243.4 920.65 244.27C922.63 245.15 924.61 245.87 926.6 246.66C928.58 247.45 930.57 248.04 932.55 249.02C934.54 250 936.52 251.39 938.51 252.54C940.49 253.69 942.47 254.84 944.46 255.93C946.44 257.02 949.42 258.56 950.41 259.08" stroke="#cc3340" stroke-width="0.7" stroke-opacity="0.88" fill="none" stroke-linejoin="round"/>
<path d="M843.26 200.4C844.25 200.47 847.23 200.74 849.21 200.85C851.19 200.97 853.18 201.01 855.16 201.09C857.15 201.17 859.13 201.17 861.12 201.34C863.1 201.51 865.08 201.85 867.07 202.12C869.05 202.39 871.04 202.75 873.02 202.95C875.01 203.14 876.99 203.09 878.98 203.29C880.96 203.49 882.94 203.78 884.93 204.13C886.91 204.49 888.9 204.97 890.88 205.41C892.87 205.85 894.85 206.34 896.83 206.78C898.82 207.23 900.8 207.62 902.79 208.1C904.77 208.58 906.76 209.19 908.74 209.69C910.72 210.19 912.71 210.67 914.69 211.1C916.68 211.53 918.66 211.92 920.65 212.26C922.63 212.61 924.61 212.83 926.6 213.15C928.58 213.46 930.57 213.74 932.55 214.14C934.54 214.53 936.52 215.05 938.51 215.52C940.49 215.98 942.47 216.41 944.46 216.94C946.44 217.46 949.42 218.39 950.41 218.68" stroke="#8c6cba" stroke-width="0.7" stroke-opacity="0.88" fill="none" stroke-linejoin="round"/>
</g>
<g clip-path="url(#cv)">
<path d="M132.28 538.25h5.15V562.3h-5.15zM144.18 545.35h5.15V562.3h-5.15zM150.13 538.75h5.15V562.3h-5.15zM167.99 522.95h5.15V562.3h-5.15zM173.95 544.25h5.15V562.3h-5.15zM185.85 543.45h5.15V562.3h-5.15zM191.81 539.55h5.15V562.3h-5.15zM215.62 543.45h5.15V562.3h-5.15zM227.52 544.95h5.15V562.3h-5.15zM233.48 545.75h5.15V562.3h-5.15zM239.43 547.65h5.15V562.3h-5.15zM257.29 541.05h5.15V562.3h-5.15zM263.24 541.05h5.15V562.3h-5.15zM275.15 541.4h5.15V562.3h-5.15zM281.1 528.55h5.15V562.3h-5.15zM287.05 535.65h5.15V562.3h-5.15zM304.91 546.85h5.15V562.3h-5.15zM322.77 543.75h5.15V562.3h-5.15zM340.63 540.35h5.15V562.3h-5.15zM358.49 507.35h5.15V562.3h-5.15zM370.4 514.85h5.15V562.3h-5.15zM388.25 530.75h5.15V562.3h-5.15zM394.21 541.4h5.15V562.3h-5.15zM412.07 538.75h5.15V562.3h-5.15zM429.93 544.85h5.15V562.3h-5.15zM441.83 535.15h5.15V562.3h-5.15zM453.74 530.65h5.15V562.3h-5.15zM459.69 542.95h5.15V562.3h-5.15zM465.64 544.55h5.15V562.3h-5.15zM477.55 530.15h5.15V562.3h-5.15zM483.5 540.35h5.15V562.3h-5.15zM489.45 546.05h5.15V562.3h-5.15zM519.22 539.85h5.15V562.3h-5.15zM525.17 547.05h5.15V562.3h-5.15zM537.08 547.35h5.15V562.3h-5.15zM548.99 544.25h5.15V562.3h-5.15zM554.94 542.95h5.15V562.3h-5.15zM560.89 537.95h5.15V562.3h-5.15zM578.75 544.95h5.15V562.3h-5.15zM602.56 538.75h5.15V562.3h-5.15zM614.47 534.05h5.15V562.3h-5.15zM626.37 520.75h5.15V562.3h-5.15zM632.33 542.35h5.15V562.3h-5.15zM650.19 547.35h5.15V562.3h-5.15zM656.14 547.65h5.15V562.3h-5.15zM662.09 537.65h5.15V562.3h-5.15zM679.95 523.15h5.15V562.3h-5.15zM691.86 538.45h5.15V562.3h-5.15zM697.81 535.15h5.15V562.3h-5.15zM703.76 539.55h5.15V562.3h-5.15zM709.72 539.85h5.15V562.3h-5.15zM727.58 543.75h5.15V562.3h-5.15zM745.43 538.75h5.15V562.3h-5.15zM751.39 529.35h5.15V562.3h-5.15zM787.11 529.15h5.15V562.3h-5.15zM793.06 534.45h5.15V562.3h-5.15zM804.96 503.95h5.15V562.3h-5.15zM822.82 533.25h5.15V562.3h-5.15zM828.78 532.4h5.15V562.3h-5.15zM834.73 525.45h5.15V562.3h-5.15zM840.68 532.15h5.15V562.3h-5.15zM846.63 540.15h5.15V562.3h-5.15zM852.59 530.15h5.15V562.3h-5.15zM876.4 526.15h5.15V562.3h-5.15zM900.21 508.65h5.15V562.3h-5.15zM912.12 540.15h5.15V562.3h-5.15zM918.07 551.45h5.15V562.3h-5.15zM924.02 542.95h5.15V562.3h-5.15zM929.98 541.95h5.15V562.3h-5.15zM947.84 446.65h5.15V562.3h-5.15z" fill="#e60f12" stroke="#8a1010" stroke-width="0.35"/>
<path d="M138.23 548.15h5.15V562.3h-5.15zM156.09 548.15h5.15V562.3h-5.15zM162.04 535.15h5.15V562.3h-5.15zM179.9 543.45h5.15V562.3h-5.15zM197.76 542.15h5.15V562.3h-5.15zM203.71 543.15h5.15V562.3h-5.15zM209.66 525.15h5.15V562.3h-5.15zM221.57 546.25h5.15V562.3h-5.15zM245.38 544.25h5.15V562.3h-5.15zM251.34 517.15h5.15V562.3h-5.15zM269.19 545.45h5.15V562.3h-5.15zM293.01 520.35h5.15V562.3h-5.15zM298.96 537.85h5.15V562.3h-5.15zM310.87 544.55h5.15V562.3h-5.15zM316.82 535.65h5.15V562.3h-5.15zM328.72 527.05h5.15V562.3h-5.15zM334.68 529.65h5.15V562.3h-5.15zM346.58 539.85h5.15V562.3h-5.15zM352.54 536.25h5.15V562.3h-5.15zM364.44 469.85h5.15V562.3h-5.15zM376.35 519.85h5.15V562.3h-5.15zM382.3 524.65h5.15V562.3h-5.15zM400.16 534.05h5.15V562.3h-5.15zM406.11 540.35h5.15V562.3h-5.15zM418.02 531.75h5.15V562.3h-5.15zM423.97 530.15h5.15V562.3h-5.15zM435.88 541.05h5.15V562.3h-5.15zM447.78 541.4h5.15V562.3h-5.15zM471.6 540.35h5.15V562.3h-5.15zM495.41 531.75h5.15V562.3h-5.15zM501.36 543.15h5.15V562.3h-5.15zM507.31 546.55h5.15V562.3h-5.15zM513.27 536.85h5.15V562.3h-5.15zM531.13 550.15h5.15V562.3h-5.15zM543.03 536.05h5.15V562.3h-5.15zM566.84 543.45h5.15V562.3h-5.15zM572.8 547.65h5.15V562.3h-5.15zM584.7 540.75h5.15V562.3h-5.15zM590.66 514.25h5.15V562.3h-5.15zM596.61 531.25h5.15V562.3h-5.15zM608.51 543.45h5.15V562.3h-5.15zM620.42 536.75h5.15V562.3h-5.15zM638.28 542.65h5.15V562.3h-5.15zM644.23 539.95h5.15V562.3h-5.15zM668.04 530.65h5.15V562.3h-5.15zM674 528.25h5.15V562.3h-5.15zM685.9 537.15h5.15V562.3h-5.15zM715.67 526.55h5.15V562.3h-5.15zM721.62 543.15h5.15V562.3h-5.15zM733.53 546.85h5.15V562.3h-5.15zM739.48 539.55h5.15V562.3h-5.15zM757.34 507.05h5.15V562.3h-5.15zM763.29 433.65h5.15V562.3h-5.15zM769.25 503.95h5.15V562.3h-5.15zM775.2 511.25h5.15V562.3h-5.15zM781.15 523.25h5.15V562.3h-5.15zM799.01 527.75h5.15V562.3h-5.15zM810.92 512.65h5.15V562.3h-5.15zM816.87 530.15h5.15V562.3h-5.15zM858.54 529.15h5.15V562.3h-5.15zM864.49 522.65h5.15V562.3h-5.15zM870.45 541.55h5.15V562.3h-5.15zM882.35 536.45h5.15V562.3h-5.15zM888.31 532.15h5.15V562.3h-5.15zM894.26 528.15h5.15V562.3h-5.15zM906.16 533.85h5.15V562.3h-5.15zM935.93 517.35h5.15V562.3h-5.15zM941.88 518.75h5.15V562.3h-5.15z" fill="#0a0aee" stroke="#0a0a96" stroke-width="0.35"/>
</g>
<rect x="132.3" y="70.7" width="821.1" height="349.8" fill="none" stroke="#8a8a8a" stroke-width="1.15"/>
<path d="M132.3 420.5V560.3M953.4 420.5V560.3" stroke="#8a8a8a" stroke-width="1.15" fill="none"/>
<path d="M132.3 395.9h-2.8M132.3 348.8h-2.8M132.3 301.7h-2.8M132.3 254.6h-2.8M132.3 207.5h-2.8M132.3 160.4h-2.8M132.3 113.3h-2.8M132.3 520.3h-2.8M132.3 476.05h-2.8M132.3 431.8h-2.8M134.85 560.3v2.8M253.91 560.3v2.8M372.97 560.3v2.8M492.03 560.3v2.8M611.09 560.3v2.8M730.15 560.3v2.8M849.21 560.3v2.8" stroke="#444" stroke-width="0.9" fill="none"/>
<text transform="translate(120.94 403) scale(1.11 1)" font-size="20.58" fill="#262626" stroke="#262626" stroke-width="0.11" text-anchor="middle">0</text><text transform="translate(107.33 403) scale(1.11 1)" font-size="20.58" fill="#262626" stroke="#262626" stroke-width="0.11" text-anchor="middle">0</text><path d="M95 392.18L98.06 389.55" stroke="#262626" stroke-width="1.55" fill="none"/><path d="M98.25 388.7V402.9" stroke="#262626" stroke-width="1.89" fill="none"/>
<text transform="translate(122.2 355.9) scale(0.86 1)" font-size="20.58" fill="#262626" stroke="#262626" stroke-width="0.11" text-anchor="middle">5</text><text transform="translate(109.87 355.9) scale(1.11 1)" font-size="20.58" fill="#262626" stroke="#262626" stroke-width="0.11" text-anchor="middle">0</text><path d="M97.53 345.08L100.59 342.45" stroke="#262626" stroke-width="1.55" fill="none"/><path d="M100.78 341.6V355.8" stroke="#262626" stroke-width="1.89" fill="none"/>
<text transform="translate(120.94 308.8) scale(1.11 1)" font-size="20.58" fill="#262626" stroke="#262626" stroke-width="0.11" text-anchor="middle">0</text><path d="M108.6 297.98L111.66 295.35" stroke="#262626" stroke-width="1.55" fill="none"/><path d="M111.85 294.5V308.7" stroke="#262626" stroke-width="1.89" fill="none"/><path d="M101.25 297.98L104.32 295.35" stroke="#262626" stroke-width="1.55" fill="none"/><path d="M104.5 294.5V308.7" stroke="#262626" stroke-width="1.89" fill="none"/>
<text transform="translate(122.2 261.7) scale(0.86 1)" font-size="20.58" fill="#262626" stroke="#262626" stroke-width="0.11" text-anchor="middle">5</text><path d="M111.13 250.88L114.2 248.25" stroke="#262626" stroke-width="1.55" fill="none"/><path d="M114.38 247.4V261.6" stroke="#262626" stroke-width="1.89" fill="none"/><path d="M103.78 250.88L106.85 248.25" stroke="#262626" stroke-width="1.55" fill="none"/><path d="M107.04 247.4V261.6" stroke="#262626" stroke-width="1.89" fill="none"/>
<text transform="translate(120.94 214.6) scale(1.11 1)" font-size="20.58" fill="#262626" stroke="#262626" stroke-width="0.11" text-anchor="middle">0</text><text transform="translate(108.58 214.6) scale(0.9 1)" font-size="20.58" fill="#262626" stroke="#262626" stroke-width="0.11" text-anchor="middle">2</text><path d="M97.48 203.78L100.54 201.15" stroke="#262626" stroke-width="1.55" fill="none"/><path d="M100.73 200.3V214.5" stroke="#262626" stroke-width="1.89" fill="none"/>
<text transform="translate(122.2 167.5) scale(0.86 1)" font-size="20.58" fill="#262626" stroke="#262626" stroke-width="0.11" text-anchor="middle">5</text><text transform="translate(111.11 167.5) scale(0.9 1)" font-size="20.58" fill="#262626" stroke="#262626" stroke-width="0.11" text-anchor="middle">2</text><path d="M100.01 156.68L103.07 154.05" stroke="#262626" stroke-width="1.55" fill="none"/><path d="M103.26 153.2V167.4" stroke="#262626" stroke-width="1.89" fill="none"/>
<text transform="translate(120.94 120.4) scale(1.11 1)" font-size="20.58" fill="#262626" stroke="#262626" stroke-width="0.11" text-anchor="middle">0</text><text transform="translate(108.33 120.4) scale(0.92 1)" font-size="20.58" fill="#262626" stroke="#262626" stroke-width="0.11" text-anchor="middle">3</text><path d="M96.98 109.58L100.05 106.95" stroke="#262626" stroke-width="1.55" fill="none"/><path d="M100.23 106.1V120.3" stroke="#262626" stroke-width="1.89" fill="none"/>
<text transform="translate(120.94 527.45) scale(1.11 1)" font-size="20.58" fill="#262626" stroke="#262626" stroke-width="0.11" text-anchor="middle">0</text><text transform="translate(108.6 527.45) scale(0.86 1)" font-size="20.58" fill="#262626" stroke="#262626" stroke-width="0.11" text-anchor="middle">5</text>
<text transform="translate(120.94 483.2) scale(1.11 1)" font-size="20.58" fill="#262626" stroke="#262626" stroke-width="0.11" text-anchor="middle">0</text><text transform="translate(107.33 483.2) scale(1.11 1)" font-size="20.58" fill="#262626" stroke="#262626" stroke-width="0.11" text-anchor="middle">0</text><path d="M95 472.38L98.06 469.75" stroke="#262626" stroke-width="1.55" fill="none"/><path d="M98.25 468.9V483.1" stroke="#262626" stroke-width="1.89" fill="none"/>
<text transform="translate(120.94 438.95) scale(1.11 1)" font-size="20.58" fill="#262626" stroke="#262626" stroke-width="0.11" text-anchor="middle">0</text><text transform="translate(108.6 438.95) scale(0.86 1)" font-size="20.58" fill="#262626" stroke="#262626" stroke-width="0.11" text-anchor="middle">5</text><path d="M97.53 428.13L100.59 425.5" stroke="#262626" stroke-width="1.55" fill="none"/><path d="M100.78 424.65V438.85" stroke="#262626" stroke-width="1.89" fill="none"/>
<text transform="translate(89.4 269.0) rotate(-90)" font-size="20.5" fill="#262626" stroke="#262626" stroke-width="0.18" textLength="42.6" lengthAdjust="spacingAndGlyphs">Price</text>
<text transform="translate(87.7 547.3) rotate(-90)" font-size="20.5" fill="#262626" stroke="#262626" stroke-width="0.18" textLength="66.6" lengthAdjust="spacingAndGlyphs">Volume</text>
<g transform="translate(88.4 466.6) rotate(-90)"><text transform="translate(4.35 0.1) scale(0.91 1)" font-size="22.17" fill="#262626" stroke="#262626" stroke-width="0.12" text-anchor="middle">1</text><text transform="translate(15.6 0.1) scale(1.15 1)" font-size="22.17" fill="#262626" stroke="#262626" stroke-width="0.12" text-anchor="middle">0</text><text transform="translate(28.65 -8.55) scale(1.2 1)" font-size="15.8" fill="#262626" stroke="#262626" stroke-width="0.09" text-anchor="middle">6</text></g>
<g transform="translate(158.99 576.2) rotate(-45)"><path d="M-4.11 -10.49L-1.11 -13.07" stroke="#262626" stroke-width="1.51" fill="none"/><path d="M-0.92 -13.9V0" stroke="#262626" stroke-width="1.85" fill="none"/><text transform="translate(-11.32 0.1) scale(0.9 1)" font-size="20.14" fill="#262626" stroke="#262626" stroke-width="0.11" text-anchor="middle">2</text><text x="-58.46" y="0" font-size="20.3" fill="#262626" textLength="34.7" lengthAdjust="spacingAndGlyphs" stroke="#262626" stroke-width="0.3">May</text></g>
<g transform="translate(278.8 576.2) rotate(-45)"><text transform="translate(-5.35 0.1) scale(1.11 1)" font-size="20.14" fill="#262626" stroke="#262626" stroke-width="0.11" text-anchor="middle">0</text><text transform="translate(-17.45 0.1) scale(0.9 1)" font-size="20.14" fill="#262626" stroke="#262626" stroke-width="0.11" text-anchor="middle">2</text><text x="-59.48" y="0" font-size="20.3" fill="#262626" textLength="29.6" lengthAdjust="spacingAndGlyphs" stroke="#262626" stroke-width="0.3">Jun</text></g>
<g transform="translate(393.47 576.2) rotate(-45)"><path d="M-4.11 -10.49L-1.11 -13.07" stroke="#262626" stroke-width="1.51" fill="none"/><path d="M-0.92 -13.9V0" stroke="#262626" stroke-width="1.85" fill="none"/><text transform="translate(-11.32 0.1) scale(0.9 1)" font-size="20.14" fill="#262626" stroke="#262626" stroke-width="0.11" text-anchor="middle">2</text><text x="-47.06" y="0" font-size="20.3" fill="#262626" textLength="23.3" lengthAdjust="spacingAndGlyphs" stroke="#262626" stroke-width="0.3">Jul</text></g>
<g transform="translate(516.3 576.2) rotate(-45)"><text transform="translate(-4.37 0.1) scale(0.93 1)" font-size="20.14" fill="#262626" stroke="#262626" stroke-width="0.11" text-anchor="middle">8</text><path d="M-15.48 -10.49L-12.48 -13.07" stroke="#262626" stroke-width="1.51" fill="none"/><path d="M-12.3 -13.9V0" stroke="#262626" stroke-width="1.85" fill="none"/><text x="-58.84" y="0" font-size="20.3" fill="#262626" textLength="34.6" lengthAdjust="spacingAndGlyphs" stroke="#262626" stroke-width="0.3">Aug</text></g>
<g transform="translate(634.8 576.2) rotate(-45)"><text transform="translate(-4.28 0.1) scale(0.92 1)" font-size="20.14" fill="#262626" stroke="#262626" stroke-width="0.11" text-anchor="middle">6</text><path d="M-15.29 -10.49L-12.29 -13.07" stroke="#262626" stroke-width="1.51" fill="none"/><path d="M-12.1 -13.9V0" stroke="#262626" stroke-width="1.85" fill="none"/><text x="-57.25" y="0" font-size="20.3" fill="#262626" textLength="33.2" lengthAdjust="spacingAndGlyphs" stroke="#262626" stroke-width="0.3">Sep</text></g>
<g transform="translate(752.76 576.2) rotate(-45)"><text transform="translate(-4.67 0.1) scale(0.92 1)" font-size="20.14" fill="#262626" stroke="#262626" stroke-width="0.11" text-anchor="middle">4</text><path d="M-16.06 -10.49L-13.06 -13.07" stroke="#262626" stroke-width="1.51" fill="none"/><path d="M-12.88 -13.9V0" stroke="#262626" stroke-width="1.85" fill="none"/><text x="-54.12" y="0" font-size="20.3" fill="#262626" textLength="29.3" lengthAdjust="spacingAndGlyphs" stroke="#262626" stroke-width="0.3">Oct</text></g>
<g transform="translate(871.55 576.2) rotate(-45)"><path d="M-4.11 -10.49L-1.11 -13.07" stroke="#262626" stroke-width="1.51" fill="none"/><path d="M-0.92 -13.9V0" stroke="#262626" stroke-width="1.85" fill="none"/><path d="M-11.3 -10.49L-8.3 -13.07" stroke="#262626" stroke-width="1.51" fill="none"/><path d="M-8.12 -13.9V0" stroke="#262626" stroke-width="1.85" fill="none"/><text x="-53.36" y="0" font-size="20.3" fill="#262626" textLength="33.4" lengthAdjust="spacingAndGlyphs" stroke="#262626" stroke-width="0.3">Nov</text></g>
<rect x="138.6" y="77.6" width="101.1" height="93.4" rx="2.2" fill="#ffffff" fill-opacity="0.8" stroke="#cccccc" stroke-opacity="0.8" stroke-width="0.8"/>
<path d="M143.9 88.2H170.3" stroke="#2f7f9c" stroke-width="0.65" stroke-opacity="0.8"/>
<text transform="translate(184.1 92.3) scale(0.83 1)" font-size="13.19" fill="#262626" stroke="#262626" stroke-width="0.27" text-anchor="middle">5</text>
<g transform="translate(187.7 88.15)" fill="none" stroke="#2a2a2a" stroke-width="1.2" stroke-linecap="butt" stroke-linejoin="miter"><ellipse cx="3.05" cy="-0.9" rx="2.45" ry="3.5"/><path d="M8.9 -6.3V5.8"/><path d="M11.7 -4.5H18.6M11.4 -0.1H19M13.6 -4.5V-0.1M16.7 -4.5V-0.1M18.6 -2.95H20.2M18.6 -1.25H20.2M20.2 -6.1V1.5" stroke-width="1.15"/><ellipse cx="16.7" cy="3.75" rx="3.5" ry="1.4" stroke-width="1.1"/><path d="M26.2 -5.6C26.2 -2.6 25 -0.6 22.9 0.9M26.3 -3C26.9 -1.6 28 -0.6 29.5 0.2M29 -2.7H31.8M31.8 -6.1V2.2M25.4 1.9V4.9H32.8"/></g>
<path d="M143.9 106.22H170.3" stroke="#ee8a28" stroke-width="0.65" stroke-opacity="0.8"/>
<path d="M182.1 103.35L183.47 101.67" stroke="#262626" stroke-width="0.99" fill="none"/><path d="M183.6 101.12V110.22" stroke="#262626" stroke-width="1.21" fill="none"/>
<text transform="translate(189.1 110.32) scale(1.11 1)" font-size="13.19" fill="#262626" stroke="#262626" stroke-width="0.27" text-anchor="middle">0</text>
<g transform="translate(193.8 106.17)" fill="none" stroke="#2a2a2a" stroke-width="1.2" stroke-linecap="butt" stroke-linejoin="miter"><ellipse cx="3.05" cy="-0.9" rx="2.45" ry="3.5"/><path d="M8.9 -6.3V5.8"/><path d="M11.7 -4.5H18.6M11.4 -0.1H19M13.6 -4.5V-0.1M16.7 -4.5V-0.1M18.6 -2.95H20.2M18.6 -1.25H20.2M20.2 -6.1V1.5" stroke-width="1.15"/><ellipse cx="16.7" cy="3.75" rx="3.5" ry="1.4" stroke-width="1.1"/><path d="M26.2 -5.6C26.2 -2.6 25 -0.6 22.9 0.9M26.3 -3C26.9 -1.6 28 -0.6 29.5 0.2M29 -2.7H31.8M31.8 -6.1V2.2M25.4 1.9V4.9H32.8"/></g>
<path d="M143.9 124.24H170.3" stroke="#379a4c" stroke-width="0.65" stroke-opacity="0.8"/>
<text transform="translate(184.15 128.34) scale(0.88 1)" font-size="13.19" fill="#262626" stroke="#262626" stroke-width="0.27" text-anchor="middle">2</text>
<text transform="translate(191.35 128.34) scale(1.16 1)" font-size="13.19" fill="#262626" stroke="#262626" stroke-width="0.27" text-anchor="middle">0</text>
<g transform="translate(196.2 124.19)" fill="none" stroke="#2a2a2a" stroke-width="1.2" stroke-linecap="butt" stroke-linejoin="miter"><ellipse cx="3.05" cy="-0.9" rx="2.45" ry="3.5"/><path d="M8.9 -6.3V5.8"/><path d="M11.7 -4.5H18.6M11.4 -0.1H19M13.6 -4.5V-0.1M16.7 -4.5V-0.1M18.6 -2.95H20.2M18.6 -1.25H20.2M20.2 -6.1V1.5" stroke-width="1.15"/><ellipse cx="16.7" cy="3.75" rx="3.5" ry="1.4" stroke-width="1.1"/><path d="M26.2 -5.6C26.2 -2.6 25 -0.6 22.9 0.9M26.3 -3C26.9 -1.6 28 -0.6 29.5 0.2M29 -2.7H31.8M31.8 -6.1V2.2M25.4 1.9V4.9H32.8"/></g>
<path d="M143.9 142.26H170.3" stroke="#cc3340" stroke-width="0.65" stroke-opacity="0.8"/>
<text transform="translate(184.3 146.36) scale(0.92 1)" font-size="13.19" fill="#262626" stroke="#262626" stroke-width="0.27" text-anchor="middle">6</text>
<text transform="translate(191.65 146.36) scale(1.16 1)" font-size="13.19" fill="#262626" stroke="#262626" stroke-width="0.27" text-anchor="middle">0</text>
<g transform="translate(196.5 142.21)" fill="none" stroke="#2a2a2a" stroke-width="1.2" stroke-linecap="butt" stroke-linejoin="miter"><ellipse cx="3.05" cy="-0.9" rx="2.45" ry="3.5"/><path d="M8.9 -6.3V5.8"/><path d="M11.7 -4.5H18.6M11.4 -0.1H19M13.6 -4.5V-0.1M16.7 -4.5V-0.1M18.6 -2.95H20.2M18.6 -1.25H20.2M20.2 -6.1V1.5" stroke-width="1.15"/><ellipse cx="16.7" cy="3.75" rx="3.5" ry="1.4" stroke-width="1.1"/><path d="M26.2 -5.6C26.2 -2.6 25 -0.6 22.9 0.9M26.3 -3C26.9 -1.6 28 -0.6 29.5 0.2M29 -2.7H31.8M31.8 -6.1V2.2M25.4 1.9V4.9H32.8"/></g>
<path d="M143.9 160.28H170.3" stroke="#8c6cba" stroke-width="0.65" stroke-opacity="0.8"/>
<path d="M182.1 157.41L183.47 155.73" stroke="#262626" stroke-width="0.99" fill="none"/><path d="M183.6 155.18V164.28" stroke="#262626" stroke-width="1.21" fill="none"/>
<text transform="translate(188.4 164.38) scale(0.93 1)" font-size="13.19" fill="#262626" stroke="#262626" stroke-width="0.27" text-anchor="middle">2</text>
<text transform="translate(195.9 164.38) scale(1.11 1)" font-size="13.19" fill="#262626" stroke="#262626" stroke-width="0.27" text-anchor="middle">0</text>
<g transform="translate(200.6 160.23)" fill="none" stroke="#2a2a2a" stroke-width="1.2" stroke-linecap="butt" stroke-linejoin="miter"><ellipse cx="3.05" cy="-0.9" rx="2.45" ry="3.5"/><path d="M8.9 -6.3V5.8"/><path d="M11.7 -4.5H18.6M11.4 -0.1H19M13.6 -4.5V-0.1M16.7 -4.5V-0.1M18.6 -2.95H20.2M18.6 -1.25H20.2M20.2 -6.1V1.5" stroke-width="1.15"/><ellipse cx="16.7" cy="3.75" rx="3.5" ry="1.4" stroke-width="1.1"/><path d="M26.2 -5.6C26.2 -2.6 25 -0.6 22.9 0.9M26.3 -3C26.9 -1.6 28 -0.6 29.5 0.2M29 -2.7H31.8M31.8 -6.1V2.2M25.4 1.9V4.9H32.8"/></g>
</svg>
</body></html>
